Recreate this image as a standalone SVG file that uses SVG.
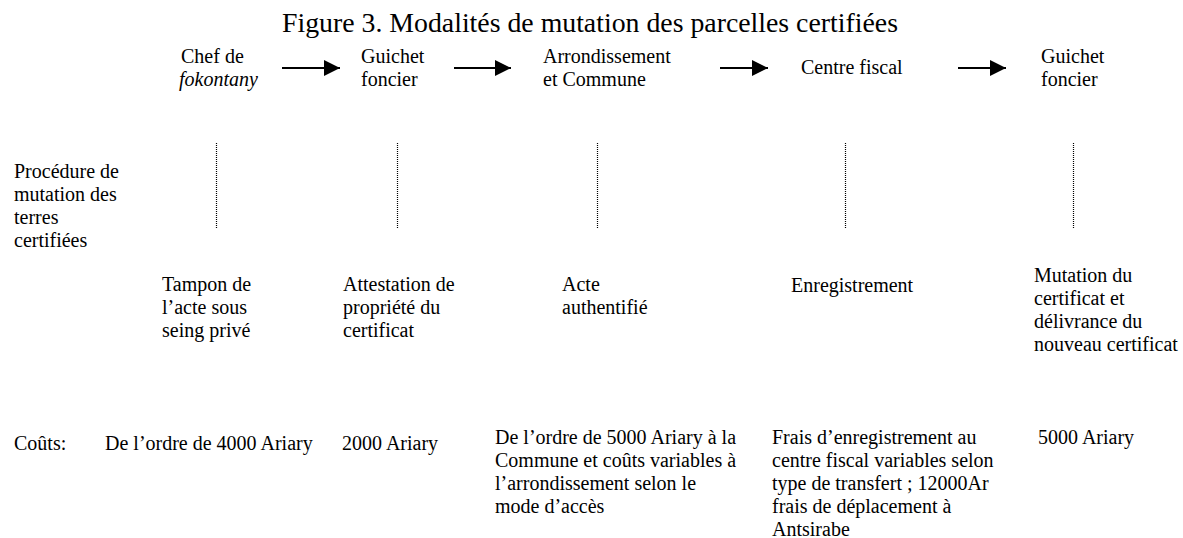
<svg xmlns="http://www.w3.org/2000/svg" width="1183" height="538" viewBox="0 0 1183 538">
<style>
text{font-family:"Liberation Serif","Times New Roman",serif;font-size:20px;fill:#000}
.title{font-size:27.8px}
.conn{stroke:#000;stroke-width:2;fill:none}
.dot{stroke:#000;stroke-width:1.2;stroke-dasharray:1 1;fill:none}
</style>
<defs>
<marker id="ah" markerUnits="userSpaceOnUse" markerWidth="16" markerHeight="18" refX="16" refY="8" orient="auto">
<path d="M0,0 L16,8 L0,16 Z" fill="#000"/>
</marker>
</defs>
<rect width="1183" height="538" fill="#fff"/>
<text class="title" x="282" y="32">Figure 3. Modalités de mutation des parcelles certifiées</text>
<g id="connectors">
<line class="conn" x1="282" y1="68" x2="340" y2="68" marker-end="url(#ah)"/>
<line class="conn" x1="454" y1="68" x2="511" y2="68" marker-end="url(#ah)"/>
<line class="conn" x1="720" y1="68" x2="768" y2="68" marker-end="url(#ah)"/>
<line class="conn" x1="958" y1="68" x2="1006" y2="68" marker-end="url(#ah)"/>
<line class="dot" x1="216.5" y1="143" x2="216.5" y2="228"/>
<line class="dot" x1="397.5" y1="143" x2="397.5" y2="228"/>
<line class="dot" x1="597.5" y1="143" x2="597.5" y2="228"/>
<line class="dot" x1="845.5" y1="143" x2="845.5" y2="228"/>
<line class="dot" x1="1073.5" y1="143" x2="1073.5" y2="228"/>
</g>
<g id="chef">
<text x="181" y="63">Chef de</text>
<text x="179" y="86" font-style="italic">fokontany</text>
</g>
<g id="guichet1">
<text x="361" y="63">Guichet</text>
<text x="361" y="86">foncier</text>
</g>
<g id="arrondissement">
<text x="543" y="63">Arrondissement</text>
<text x="543" y="86">et Commune</text>
</g>
<g id="centre">
<text x="801" y="74">Centre fiscal</text>
</g>
<g id="guichet2">
<text x="1041" y="63">Guichet</text>
<text x="1041" y="86">foncier</text>
</g>
<g id="procedure">
<text x="14" y="178">Procédure de</text>
<text x="14" y="201">mutation des</text>
<text x="14" y="224">terres</text>
<text x="14" y="247">certifiées</text>
</g>
<g id="tampon">
<text x="162" y="291">Tampon de</text>
<text x="162" y="314">l’acte sous</text>
<text x="162" y="337">seing privé</text>
</g>
<g id="attestation">
<text x="343" y="291">Attestation de</text>
<text x="343" y="314">propriété du</text>
<text x="343" y="337">certificat</text>
</g>
<g id="acte">
<text x="562" y="291">Acte</text>
<text x="562" y="314">authentifié</text>
</g>
<g id="enregistrement">
<text x="791" y="292">Enregistrement</text>
</g>
<g id="mutation">
<text x="1034" y="282">Mutation du</text>
<text x="1034" y="305">certificat et</text>
<text x="1034" y="328">délivrance du</text>
<text x="1034" y="351">nouveau certificat</text>
</g>
<g id="couts">
<text x="14" y="450">Coûts:</text>
<text x="105" y="450">De l’ordre de 4000 Ariary</text>
<text x="342" y="450">2000 Ariary</text>
</g>
<g id="cout-commune">
<text x="495" y="444">De l’ordre de 5000 Ariary à la</text>
<text x="495" y="467">Commune et coûts variables à</text>
<text x="495" y="490">l’arrondissement selon le</text>
<text x="495" y="513">mode d’accès</text>
</g>
<g id="cout-fiscal">
<text x="772" y="444">Frais d’enregistrement au</text>
<text x="772" y="467">centre fiscal variables selon</text>
<text x="772" y="490">type de transfert ; 12000Ar</text>
<text x="772" y="513">frais de déplacement à</text>
<text x="772" y="536">Antsirabe</text>
</g>
<g id="cout-guichet">
<text x="1038" y="444">5000 Ariary</text>
</g>
</svg>
